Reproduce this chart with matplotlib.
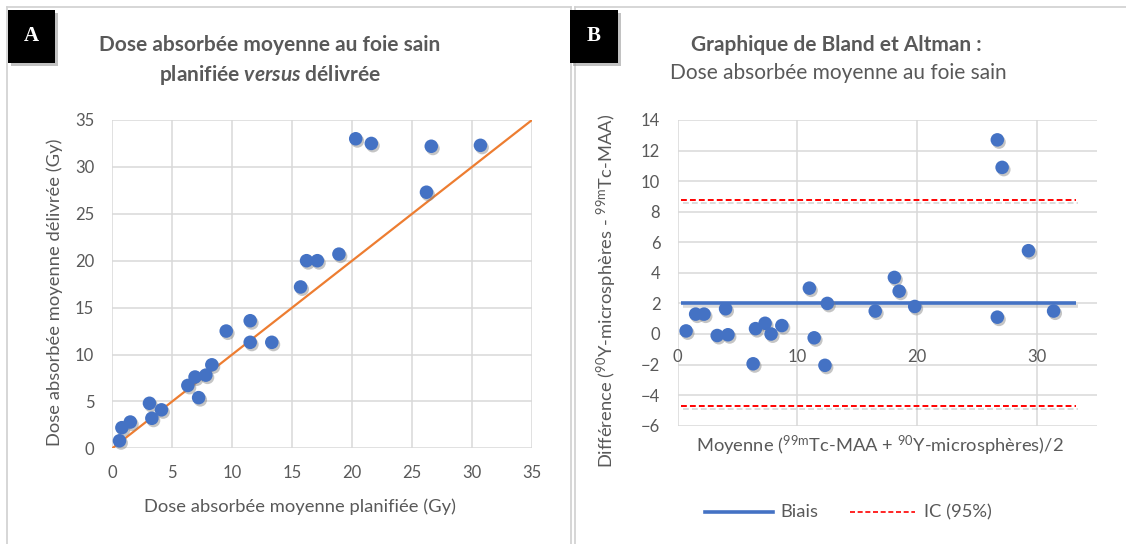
import matplotlib
matplotlib.use("Agg")
import matplotlib.pyplot as plt
import matplotlib.patheffects as pe
from matplotlib.patches import Rectangle
from matplotlib.lines import Line2D

# ---------------- data ----------------
# Panel A: planned vs delivered mean absorbed dose to healthy liver (Gy)
dose_planned = [20.3, 21.6, 26.6, 30.7, 26.2, 16.2, 17.1, 18.9, 15.7, 11.5,
                9.5, 11.5, 13.3, 8.3, 7.8, 6.9, 6.3, 7.2, 3.1, 4.1,
                3.3, 1.5, 0.8, 0.6]
dose_delivered = [33.0, 32.5, 32.2, 32.3, 27.3, 20.0, 20.0, 20.7, 17.2, 13.6,
                  12.5, 11.3, 11.3, 8.9, 7.8, 7.6, 6.7, 5.4, 4.8, 4.1,
                  3.2, 2.8, 2.2, 0.8]
identity_line = [0, 35]

# Panel B: Bland-Altman (mean of both methods vs difference)
ba_mean = [26.7, 27.1, 29.3, 18.1, 18.5, 11.0, 12.5, 16.5, 19.8, 26.7,
           31.4, 0.7, 1.5, 2.2, 4.0, 3.3, 4.2, 6.5, 7.3, 7.8,
           8.7, 6.3, 11.4, 12.3]
ba_diff = [12.7, 10.9, 5.45, 3.7, 2.8, 3.0, 2.0, 1.5, 1.8, 1.1,
           1.5, 0.2, 1.3, 1.3, 1.65, -0.1, -0.05, 0.35, 0.7, 0.0,
           0.55, -1.95, -0.25, -2.05]
bias = 2.02
ic_upper = 8.75
ic_lower = -4.7
line_span = [0.3, 33.3]

# ---------------- style ----------------
FONT = ["Lato", "DejaVu Sans"]
plt.rcParams["font.family"] = FONT
plt.rcParams["mathtext.fontset"] = "custom"
plt.rcParams["mathtext.rm"] = "Lato"
plt.rcParams["mathtext.it"] = "Lato:italic:bold"
TXT = "#595959"
GRID = "#D9D9D9"
BLUE = "#4472C4"
ORANGE = "#ED7D31"
RED = "#FF0000"

TICK_FS = 12
LABEL_FS = 13.2
TITLE_FS = 15

W, H = 1126, 544
fig = plt.figure(figsize=(W / 100, H / 100), dpi=100)
fig.patch.set_facecolor("white")


def fx(px):
    return px / W


def fy(py):
    return 1 - py / H


def ax_rect(l, t, r, b):
    return [fx(l), fy(b), fx(r) - fx(l), fy(t) - fy(b)]


marker_fx = [pe.SimplePatchShadow(offset=(1.2, -1.6), shadow_rgbFace="#7f7f7f", alpha=0.45),
             pe.Normal()]
line_fx = [pe.SimpleLineShadow(offset=(1, -2), shadow_color="#9a9a9a", alpha=0.35), pe.Normal()]

# ---------------- panel frames ----------------
frame_kw = dict(color="#D0D0D0", lw=1.2, transform=fig.transFigure)
fig.add_artist(Line2D([fx(7.5), fx(7.5)], [fy(7), 0], **frame_kw))
fig.add_artist(Line2D([fx(7.5), fx(571)], [fy(7), fy(7)], **frame_kw))
fig.add_artist(Line2D([fx(571), fx(571)], [fy(7), 0], **frame_kw))
fig.add_artist(Line2D([fx(574.5), fx(574.5)], [fy(7), 0], **frame_kw))
fig.add_artist(Line2D([fx(574.5), 1], [fy(7), fy(7)], **frame_kw))


def badge(x0, x1, letter):
    shadow = Rectangle((fx(x0 + 3), fy(63 + 3)), fx(x1 - x0), fy(10) - fy(63),
                       transform=fig.transFigure, facecolor="#9a9a9a", alpha=0.6,
                       edgecolor="none", zorder=5)
    box = Rectangle((fx(x0), fy(63)), fx(x1 - x0), fy(10) - fy(63),
                    transform=fig.transFigure, facecolor="black", edgecolor="none", zorder=6)
    fig.add_artist(shadow)
    fig.add_artist(box)
    fig.text(fx((x0 + x1) / 2), fy(36), letter, color="white", fontsize=15,
             fontweight="bold", family="Liberation Serif", ha="center", va="center", zorder=7)


badge(8, 55, "A")
badge(570, 618, "B")

# ---------------- panel A ----------------
axA = fig.add_axes(ax_rect(112.3, 120, 532, 448.3))
axA.set_xlim(0, 35)
axA.set_ylim(0, 35)
axA.set_xticks(range(0, 36, 5))
axA.set_yticks(range(0, 36, 5))
axA.grid(True, color=GRID, lw=1.1)
axA.set_axisbelow(True)
for s in axA.spines.values():
    s.set_visible(False)
axA.tick_params(axis="x", length=0, colors=TXT, labelsize=TICK_FS, pad=12)
axA.tick_params(axis="y", length=0, colors=TXT, labelsize=TICK_FS, pad=13)
axA.plot(identity_line, identity_line, color=ORANGE, lw=1.6, zorder=2)
axA.scatter(dose_planned, dose_delivered, s=95, color=BLUE, zorder=3,
            edgecolors="none", clip_on=False, path_effects=marker_fx)

fig.text(fx(270), fy(45), "Dose absorbée moyenne au foie sain", ha="center", va="center",
         fontsize=TITLE_FS, fontweight="bold", color=TXT)
fig.text(fx(270), fy(75), r"planifiée $\mathit{versus}$ délivrée", ha="center", va="center",
         fontsize=TITLE_FS, fontweight="bold", color=TXT)
fig.text(fx(300), fy(507), "Dose absorbée moyenne planifiée (Gy)", ha="center", va="center",
         fontsize=LABEL_FS, color=TXT)
fig.text(fx(55), fy(292), "Dose absorbée moyenne délivrée (Gy)", ha="center", va="center",
         rotation=90, fontsize=LABEL_FS, color=TXT)

# ---------------- panel B ----------------
axB = fig.add_axes(ax_rect(677.7, 120, 1096.7, 425.7))
axB.set_xlim(0, 35)
axB.set_ylim(-6, 14)
axB.set_xticks([0, 10, 20, 30])
axB.set_yticks(range(-6, 15, 2))
axB.grid(True, color=GRID, lw=1.1)
axB.set_axisbelow(True)
for s in axB.spines.values():
    s.set_visible(False)
axB.spines["bottom"].set_position(("data", 0))
axB.tick_params(axis="y", length=0, colors=TXT, labelsize=TICK_FS, pad=12.5)
axB.tick_params(axis="x", length=0, colors=TXT, labelsize=TICK_FS, pad=11)

axB.plot(line_span, [bias, bias], color=BLUE, lw=2.6, solid_capstyle="butt",
         zorder=2, path_effects=line_fx)
axB.plot(line_span, [ic_upper, ic_upper], color=RED, lw=1.4, dashes=(3, 1.6),
         zorder=2, path_effects=line_fx)
axB.plot(line_span, [ic_lower, ic_lower], color=RED, lw=1.4, dashes=(3, 1.6),
         zorder=2, path_effects=line_fx)
axB.scatter(ba_mean, ba_diff, s=95, color=BLUE, zorder=3, edgecolors="none",
            clip_on=False, path_effects=marker_fx)

fig.text(fx(836), fy(45), "Graphique de Bland et Altman :", ha="center", va="center",
         fontsize=TITLE_FS, fontweight="bold", color=TXT)
fig.text(fx(838), fy(73), "Dose absorbée moyenne au foie sain", ha="center", va="center",
         fontsize=TITLE_FS, color=TXT)
fig.text(fx(880), fy(446),
         r"Moyenne ($\mathregular{^{99m}}$Tc-MAA + $\mathregular{^{90}}$Y-microsphères)/2",
         ha="center", va="center", fontsize=LABEL_FS, color=TXT)
fig.text(fx(607), fy(291),
         r"Différence ($\mathregular{^{90}}$Y-microsphères - $\mathregular{^{99m}}$Tc-MAA)",
         ha="center", va="center", rotation=90, fontsize=LABEL_FS, color=TXT)

# legend
fig.add_artist(Line2D([fx(705), fx(773)], [fy(512), fy(512)], color=BLUE, lw=2.6,
                      transform=fig.transFigure))
fig.text(fx(780), fy(512), "Biais", ha="left", va="center", fontsize=LABEL_FS, color=TXT)
fig.add_artist(Line2D([fx(850), fx(915)], [fy(512), fy(512)], color=RED, lw=1.2,
                      dashes=(3, 1.6), transform=fig.transFigure))
fig.text(fx(924), fy(512), "IC (95%)", ha="left", va="center", fontsize=LABEL_FS, color=TXT)

fig.savefig("out.png", dpi=100, facecolor="white")
